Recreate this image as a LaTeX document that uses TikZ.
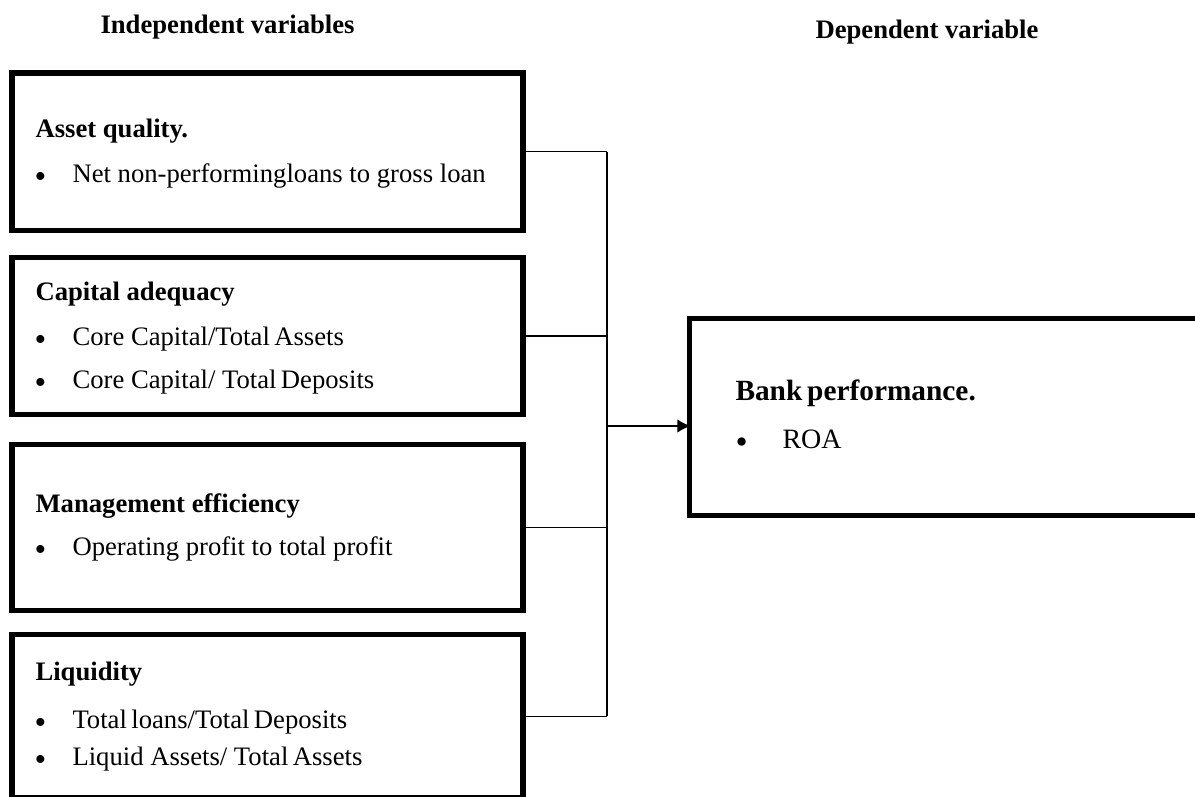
\documentclass[tikz,border=0pt]{standalone}
\usepackage{fontspec}
\setmainfont{Liberation Serif}
\usetikzlibrary{arrows.meta}

\tikzset{every picture/.style={line width=0.75pt}}
\tikzset{
  varbox/.style={draw, line width=4.1pt, inner sep=0pt, minimum width=383.25pt},
  headtext/.style={anchor=base west, inner sep=0pt, font=\fontsize{20}{24}\selectfont\bfseries},
  itemtext/.style={anchor=base west, inner sep=0pt, font=\fontsize{20}{24}\selectfont},
  dottext/.style={anchor=base west, inner sep=0pt, font=\fontsize{25}{30}\selectfont},
  link/.style={line width=1.1pt},
}

\begin{document}
\begin{tikzpicture}[x=0.75pt,y=0.75pt,yscale=-1,xscale=1]
		\clip (0,0) rectangle (1195,796);

		%Shape: Rectangle [id:asset]
		\node [varbox, minimum height=118.1pt] (asset) at (267.5,151.75) {};
		%Shape: Rectangle [id:capital]
		\node [varbox, minimum height=117.75pt] (capital) at (267.5,336) {};
		%Shape: Rectangle [id:manage]
		\node [varbox, minimum height=124.5pt] (manage) at (267.5,527.5) {};
		%Shape: Rectangle [id:liquid]
		\node [varbox, minimum height=122.6pt] (liquid) at (267.5,716.25) {};
		%Shape: Rectangle [id:perf]
		\node [varbox, minimum width=381.4pt, minimum height=147.75pt] (perf) at (943.75,417) {};

		%Straight Lines [id:spine]
		\coordinate (spine) at (607,426);
		\draw [link] (asset.east) -- (asset.east -| spine) ;
		\draw [link] (capital.east) -- (capital.east -| spine) ;
		\draw [link] (manage.east) -- (manage.east -| spine) ;
		\draw [link] (liquid.east) -- (liquid.east -| spine) ;
		\draw [link] (asset.east -| spine) -- (liquid.east -| spine) ;
		%Straight Lines [id:arrow]
		\draw [link, -{Latex[length=10pt,width=10pt]}, shorten >=-3pt] (spine) -- (spine -| perf.west) ;

		% Text Node
		\node [headtext] (indep) at (100,33) {Independent variables};
		% Text Node
		\node [headtext] (dep) at (815,38) {Dependent variable};

		% Text Node
		\node [headtext] (assethead) at (35,137) {Asset quality.};
		\node [dottext] (assetdot) at (34,187) {\textbullet};
		\node [itemtext] (assetitem) at (72,182) {Net non-performingloans to gross loan};
		% Text Node
		\node [headtext] (capitalhead) at (35,300) {Capital adequacy};
		\node [dottext] (capitaldota) at (34,350) {\textbullet};
		\node [itemtext] (capitalitema) at (72,345) {Core Capital/Total\,Assets};
		\node [dottext] (capitaldotb) at (34,393) {\textbullet};
		\node [itemtext] (capitalitemb) at (72,388) {Core Capital/ Total\,Deposits};
		% Text Node
		\node [headtext] (managehead) at (35,512) {Management efficiency};
		\node [dottext] (managedot) at (34,560) {\textbullet};
		\node [itemtext] (manageitem) at (72,555) {Operating profit to total profit};
		% Text Node
		\node [headtext] (liquidhead) at (35,680) {Liquidity};
		\node [dottext] (liquiddota) at (34,733) {\textbullet};
		\node [itemtext] (liquiditema) at (72,728) {Total\,loans/Total\,Deposits};
		\node [dottext] (liquiddotb) at (34,770) {\textbullet};
		\node [itemtext] (liquiditemb) at (72,765) {Liquid Assets/ Total\,Assets};
		% Text Node
		\node [headtext, font=\fontsize{22}{26}\selectfont\bfseries] (perfhead) at (735,400) {Bank\,performance.};
		\node [dottext, font=\fontsize{26}{31}\selectfont] (perfdot) at (735,453) {\textbullet};
		\node [itemtext, font=\fontsize{21}{25}\selectfont] (perfitem) at (782,448) {ROA};

\end{tikzpicture}
\end{document}
